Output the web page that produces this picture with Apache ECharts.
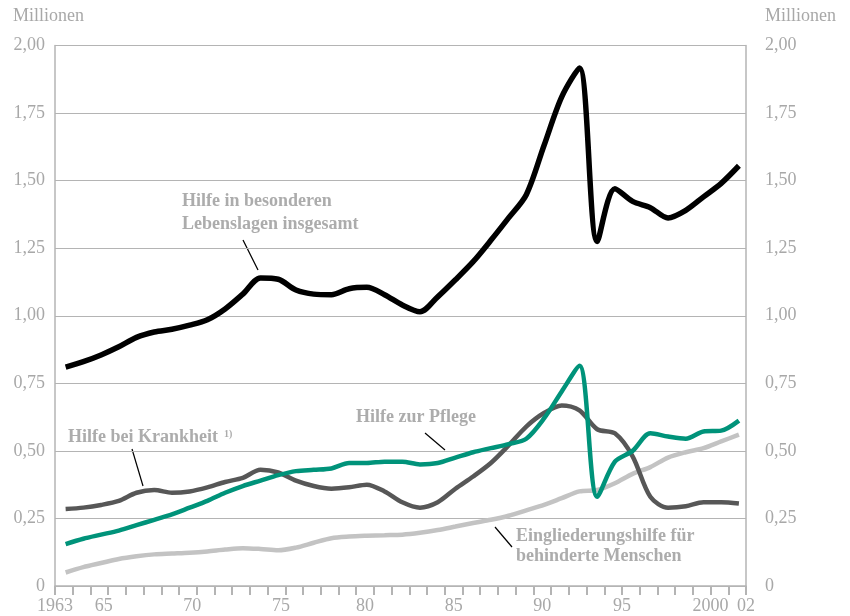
<!DOCTYPE html>
<html>
<head>
<meta charset="utf-8">
<script src="https://cdn.jsdelivr.net/npm/echarts@6/dist/echarts.min.js"></script>
<style>
html, body { margin: 0; padding: 0; background: #fff; }
#chart { width: 850px; height: 616px; }
</style>
</head>
<body>
<div id="chart"></div>
<script>
// Jahre 1963 - 2001, Empfänger in Millionen
var years = [1963,1964,1965,1966,1967,1968,1969,1970,1971,1972,1973,1974,1975,1976,1977,1978,1979,1980,
    1981,1982,1983,1984,1985,1986,1987,1988,1989,1990,1991,1992,1993,1994,1995,1996,1997,1998,1999,2000,2001];
var insgesamt = [0.81,0.83,0.855,0.885,0.92,0.94,0.95,0.965,0.985,1.025,1.08,1.14,1.135,1.095,1.08,1.078,1.10,1.105,
    1.078,1.04,1.015,1.07,1.133,1.20,1.279,1.362,1.448,1.63,1.81,1.917,1.275,1.47,1.423,1.40,1.362,1.39,1.44,1.49,1.555];
var krankheit = [0.285,0.29,0.30,0.315,0.345,0.355,0.345,0.35,0.365,0.385,0.40,0.43,0.42,0.39,0.37,0.36,0.365,0.375,
    0.35,0.31,0.29,0.31,0.36,0.405,0.455,0.52,0.59,0.64,0.668,0.65,0.58,0.565,0.48,0.33,0.29,0.295,0.31,0.31,0.305];
var pflege = [0.155,0.175,0.19,0.205,0.225,0.245,0.265,0.29,0.315,0.345,0.37,0.39,0.41,0.425,0.43,0.435,0.455,0.455,
    0.46,0.46,0.45,0.455,0.475,0.495,0.51,0.525,0.545,0.62,0.72,0.815,0.33,0.46,0.50,0.565,0.553,0.545,0.572,0.575,0.612];
var eingliederung = [0.05,0.07,0.085,0.10,0.11,0.117,0.12,0.123,0.128,0.135,0.14,0.137,0.132,0.142,0.16,0.177,0.183,0.186,
    0.188,0.19,0.197,0.207,0.22,0.233,0.245,0.26,0.28,0.30,0.325,0.35,0.355,0.38,0.415,0.44,0.475,0.495,0.51,0.535,0.56];

// Beschriftung der Zeitachse
var xLabelAt = [1963, 1965.75, 1970.75, 1975.75, 1980.5, 1985.5, 1990.5, 1995, 2000, 2002];
var xLabelText = ['1963', '65', '70', '75', '80', '85', '90', '95', '2000', '02'];

var serif = "'Liberation Serif', 'DejaVu Serif', serif";
var grey = '#a8a8a8';
var lineGrey = '#b4b4b4';

function pairs(values) {
    // Werte jeweils zur Jahresmitte
    return values.map(function (v, i) { return [years[i] + 0.6, v]; });
}

function yFmt(v) {
    return v === 0 ? '0' : v.toFixed(2).replace('.', ',');
}

var chart = echarts.init(document.getElementById('chart'));

var option = {
    animation: false,
    grid: { left: 55, right: 104, top: 45.5, bottom: 30 },
    xAxis: [{
        type: 'value',
        min: 1963,
        max: 2002,
        interval: 1,
        axisLine: { lineStyle: { color: lineGrey, width: 1.5 } },
        axisTick: { show: true, length: 9, lineStyle: { color: lineGrey, width: 2 } },
        axisLabel: { show: false },
        splitLine: { show: false }
    }, {
        type: 'value',
        position: 'bottom',
        min: 1963,
        max: 2002,
        interval: 0.25,
        axisLine: { show: false },
        axisTick: { show: false },
        splitLine: { show: false },
        axisLabel: {
            show: true,
            showMinLabel: true,
            showMaxLabel: true,
            margin: 11,
            color: grey,
            fontFamily: serif,
            fontSize: 18,
            formatter: function (v) {
                for (var i = 0; i < xLabelAt.length; i++) {
                    if (Math.abs(v - xLabelAt[i]) < 0.01) return xLabelText[i];
                }
                return '';
            }
        }
    }],
    yAxis: [{
        type: 'value',
        min: 0,
        max: 2,
        interval: 0.25,
        axisLine: { show: true, lineStyle: { color: lineGrey, width: 1.5 } },
        axisTick: { show: false },
        splitLine: { lineStyle: { color: lineGrey, width: 1.2 } },
        axisLabel: { margin: 10, color: grey, fontFamily: serif, fontSize: 18, formatter: yFmt }
    }, {
        type: 'value',
        position: 'right',
        min: 0,
        max: 2,
        interval: 0.25,
        axisLine: { show: true, lineStyle: { color: lineGrey, width: 1.5 } },
        axisTick: { show: false },
        splitLine: { show: false },
        axisLabel: { margin: 19, color: grey, fontFamily: serif, fontSize: 18, formatter: yFmt }
    }],
    series: [{
        name: 'Eingliederungshilfe für behinderte Menschen',
        type: 'line',
        data: pairs(eingliederung),
        smooth: 0.3,
        symbol: 'none',
        lineStyle: { color: '#c3c3c3', width: 4.5 }
    }, {
        name: 'Hilfe bei Krankheit',
        type: 'line',
        data: pairs(krankheit),
        smooth: 0.3,
        symbol: 'none',
        lineStyle: { color: '#575757', width: 4.5 }
    }, {
        name: 'Hilfe zur Pflege',
        type: 'line',
        data: pairs(pflege),
        smooth: 0.3,
        symbol: 'none',
        lineStyle: { color: '#00937a', width: 4.5 }
    }, {
        name: 'Hilfe in besonderen Lebenslagen insgesamt',
        type: 'line',
        data: pairs(insgesamt),
        smooth: 0.3,
        symbol: 'none',
        lineStyle: { color: '#000000', width: 5.5 }
    }],
    graphic: [
        { type: 'text', left: 13, top: 7, style: { text: 'Millionen', fill: grey, font: '18px ' + serif } },
        { type: 'text', left: 765, top: 7, style: { text: 'Millionen', fill: grey, font: '18px ' + serif } },

        { type: 'text', left: 182, top: 192, style: { text: 'Hilfe in besonderen', fill: '#acacac', font: 'bold 18px ' + serif } },
        { type: 'text', left: 182, top: 215, style: { text: 'Lebenslagen insgesamt', fill: '#acacac', font: 'bold 18px ' + serif } },
        { type: 'line', shape: { x1: 243, y1: 240, x2: 258, y2: 270 }, style: { stroke: '#000', lineWidth: 1.2 } },

        { type: 'text', left: 68, top: 428, style: { text: 'Hilfe bei Krankheit', fill: '#acacac', font: 'bold 18px ' + serif } },
        { type: 'text', left: 224, top: 429, style: { text: '1)', fill: '#acacac', font: 'bold 10px ' + serif } },
        { type: 'line', shape: { x1: 132, y1: 449, x2: 143, y2: 486 }, style: { stroke: '#000', lineWidth: 1.2 } },

        { type: 'text', left: 356, top: 408, style: { text: 'Hilfe zur Pflege', fill: '#acacac', font: 'bold 18px ' + serif } },
        { type: 'line', shape: { x1: 425, y1: 433, x2: 445, y2: 450 }, style: { stroke: '#000', lineWidth: 1.2 } },

        { type: 'text', left: 516, top: 527, style: { text: 'Eingliederungshilfe für', fill: '#acacac', font: 'bold 18px ' + serif } },
        { type: 'text', left: 516, top: 547, style: { text: 'behinderte Menschen', fill: '#acacac', font: 'bold 18px ' + serif } },
        { type: 'line', shape: { x1: 495, y1: 527, x2: 512, y2: 547 }, style: { stroke: '#000', lineWidth: 1.2 } }
    ]
};

chart.setOption(option);
</script>
</body>
</html>
